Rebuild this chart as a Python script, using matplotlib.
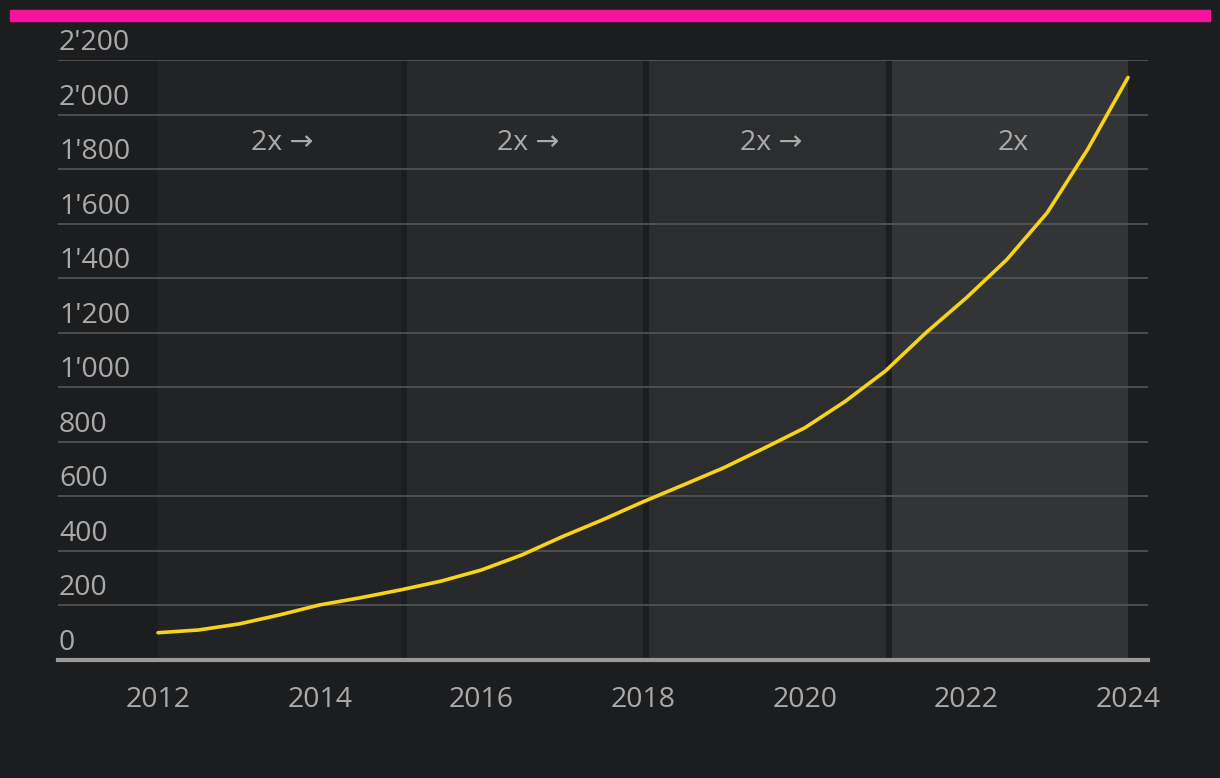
import matplotlib
matplotlib.use("Agg")
import matplotlib.pyplot as plt
import matplotlib.transforms as mtransforms
from matplotlib.patches import Rectangle

# values (half-year steps)
years = [2012, 2012.5, 2013, 2013.5, 2014, 2014.5, 2015, 2015.5, 2016, 2016.5,
         2017, 2017.5, 2018, 2018.5, 2019, 2019.5, 2020, 2020.5, 2021, 2021.5,
         2022, 2022.5, 2023, 2023.5, 2024]
values = [100, 110, 132, 165, 202, 228, 257, 289, 330, 385,
          452, 514, 580, 642, 705, 777, 851, 948, 1060, 1200,
          1328, 1468, 1640, 1872, 2136]

band_start = [2012, 2015.08, 2018.08, 2021.08]
band_end = [2015, 2018, 2021, 2024]
band_colors = ["#222325", "#28292b", "#2c2d2f", "#333436"]
band_labels = ["2x \u2192", "2x \u2192", "2x \u2192", "2x"]

yticks = [0, 200, 400, 600, 800, 1000, 1200, 1400, 1600, 1800, 2000, 2200]
ylabels = ["0", "200", "400", "600", "800", "1'000", "1'200", "1'400",
           "1'600", "1'800", "2'000", "2'200"]
xticks = [2012, 2014, 2016, 2018, 2020, 2022, 2024]

bg = "#1c1d1f"
txt = "#aaaaaa"
fam = ["Open Sans", "DejaVu Sans"]
plt.rcParams["font.family"] = fam
fs = 20.5

fig = plt.figure(figsize=(12.2, 7.78), dpi=100, facecolor=bg)
W, H = 1220, 778
ax = fig.add_axes([58 / W, (H - 660) / H, (1148 - 58) / W, 600 / H])
ax.set_facecolor(bg)

# pink bar on top
fig.patches.append(Rectangle((10 / W, (H - 21) / H), 1200 / W, 11 / H,
                             transform=fig.transFigure, color="#f5139b"))

ax.set_xlim(2010.763, 2024.247)
ax.set_ylim(0, 2200)

for s, e, c, lab in zip(band_start, band_end, band_colors, band_labels):
    ax.axvspan(s, e, color=c, lw=0, zorder=0)
    ax.text((s + e) / 2 + 0.04, 0.862, lab, transform=ax.get_xaxis_transform(),
            ha="center", va="center", fontsize=fs, color=txt)

for v in yticks[1:]:
    ax.axhline(v, color="#555555", lw=1.2, zorder=1)
ax.axhline(0, color="#999999", lw=3, zorder=3, clip_on=False)

# y labels sit above the gridlines
base = mtransforms.blended_transform_factory(ax.transAxes, ax.transData)
lab_tr = mtransforms.offset_copy(base, fig=fig, x=1, y=10, units="dots")
for v, lab in zip(yticks, ylabels):
    ax.text(0, v, lab, transform=lab_tr, ha="left", va="baseline",
            fontsize=fs, color=txt)

ax.plot(years, values, color="#f7d31a", lw=2.6, zorder=4,
        solid_capstyle="round", solid_joinstyle="round")

ax.set_yticks([])
ax.set_xticks(xticks)
ax.set_xticklabels([str(x) for x in xticks])
ax.tick_params(axis="x", length=0, pad=19, labelsize=fs, labelcolor=txt)
for sp in ax.spines.values():
    sp.set_visible(False)

fig.savefig("out.png", dpi=100, facecolor=bg)
